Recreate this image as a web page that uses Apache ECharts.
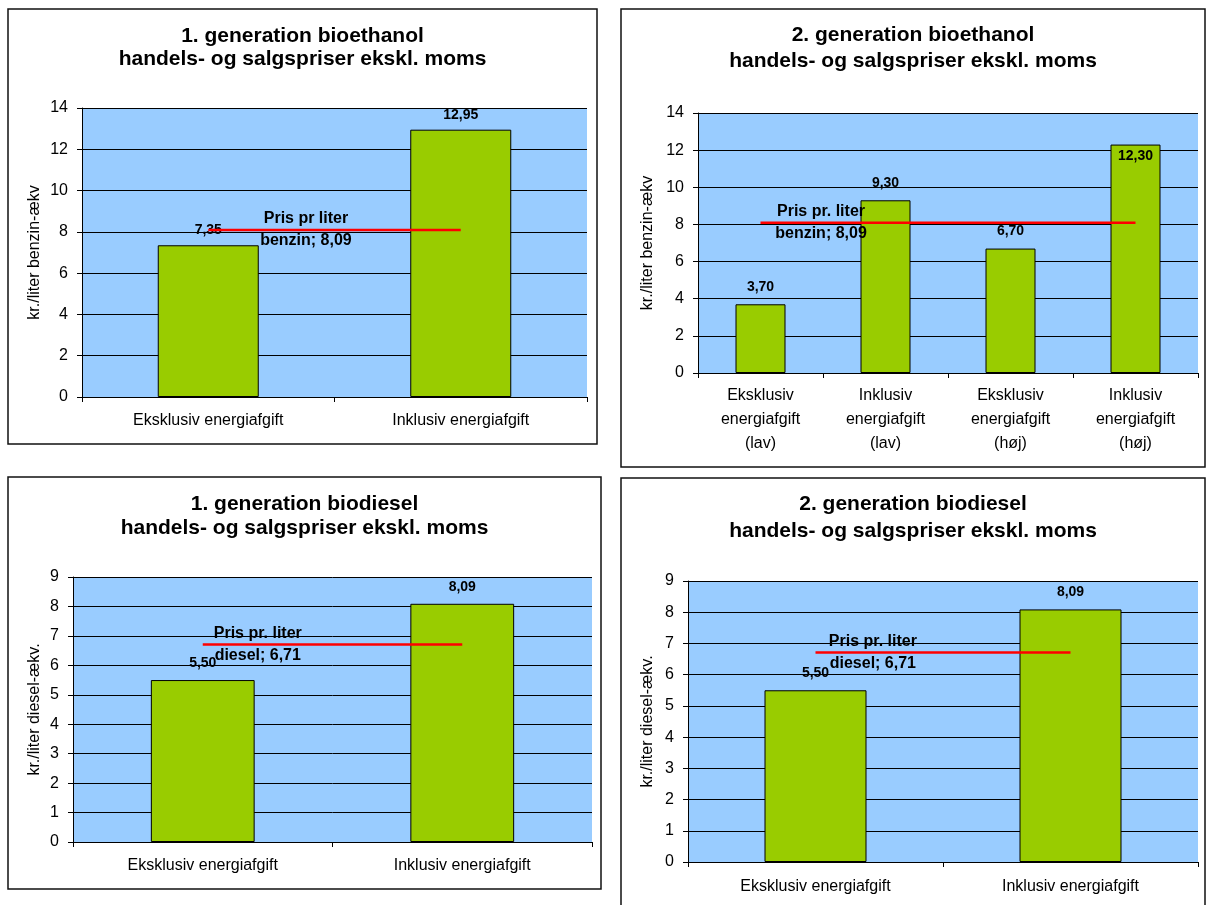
<!DOCTYPE html>
<html><head><meta charset="utf-8">
<script src="https://cdn.jsdelivr.net/npm/echarts@6/dist/echarts.min.js"></script>
<style>html,body{margin:0;padding:0;background:#fff;}#c{width:1207px;height:905px;}</style>
</head><body><div id="c"></div>
<script>
// ---------- data ----------
const titles = [
  '1. generation bioethanol\nhandels- og salgspriser ekskl. moms',
  '2. generation bioethanol\nhandels- og salgspriser ekskl. moms',
  '1. generation biodiesel\nhandels- og salgspriser ekskl. moms',
  '2. generation biodiesel\nhandels- og salgspriser ekskl. moms'
];
const yNames = ['kr./liter benzin-ækv', 'kr./liter benzin-ækv', 'kr./liter diesel-ækv.', 'kr./liter diesel-ækv.'];
const cats1 = ['Eksklusiv energiafgift', 'Inklusiv energiafgift'];
const cats2 = ['Eksklusiv\nenergiafgift\n(lav)', 'Inklusiv\nenergiafgift\n(lav)', 'Eksklusiv\nenergiafgift\n(høj)', 'Inklusiv\nenergiafgift\n(høj)'];
const cats3 = ['Eksklusiv energiafgift', 'Inklusiv energiafgift'];
const cats4 = ['Eksklusiv energiafgift', 'Inklusiv energiafgift'];
const vals1 = [7.35, 12.95];
const vals2 = [3.70, 9.30, 6.70, 12.30];
const vals3 = [5.50, 8.09];
const vals4 = [5.50, 8.09];
const prices = [8.09, 8.09, 6.71, 6.71];
const priceTexts = ['Pris pr liter\nbenzin; 8,09', 'Pris pr. liter\nbenzin; 8,09', 'Pris pr. liter\ndiesel; 6,71', 'Pris pr. liter\ndiesel; 6,71'];
const yMax = [14, 14, 9, 9];
const yInterval = [2, 2, 1, 1];

// ---------- layout / style ----------
const FONT = "'Liberation Sans', Arial, sans-serif";
const layouts = [
  {border:[8,9,589,435],   grid:{left:82,top:108,width:505,height:289}, tx:302.5, ttop:24.5, tlh:23, gap:39, lm:12, px:0.387, vd:8,  inside:[]},
  {border:[621,9,584,458], grid:{left:698,top:113,width:500,height:260}, tx:913,  ttop:22.5, tlh:26, gap:42, lm:11, px:0.484, vd:10, inside:[3]},
  {border:[8,477,593,412], grid:{left:73,top:577,width:519,height:265}, tx:304.5, ttop:492,  tlh:24, gap:30, lm:12, px:0.212, vd:10, inside:[]},
  {border:[621,478,584,440],grid:{left:688,top:581,width:510,height:281}, tx:913,  ttop:491,  tlh:27, gap:32, lm:13, px:0.225, vd:10, inside:[]}
];
const catsAll = [cats1, cats2, cats3, cats4];
const valsAll = [vals1, vals2, vals3, vals4];
const fmt = v => v.toFixed(2).replace('.', ',');

const option = {
  animation: false,
  backgroundColor: '#ffffff',
  textStyle: {fontFamily: FONT},
  title: [], grid: [], xAxis: [], yAxis: [], series: [],
  graphic: layouts.map(l => ({
    type: 'rect', silent: true,
    shape: {x: l.border[0], y: l.border[1], width: l.border[2], height: l.border[3]},
    style: {fill: 'none', stroke: '#111', lineWidth: 1.5}
  }))
};

layouts.forEach((l, i) => {
  const n = catsAll[i].length;
  option.title.push({
    text: titles[i], left: l.tx, top: l.ttop, textAlign: 'center', padding: 0,
    textStyle: {fontFamily: FONT, fontSize: 21, fontWeight: 'bold', color: '#000', lineHeight: l.tlh}
  });
  option.grid.push(Object.assign({show: true, backgroundColor: '#99CCFF', borderWidth: 0}, l.grid));
  option.xAxis.push({
    type: 'category', gridIndex: i, data: catsAll[i],
    axisLine: {show: true, onZero: false, lineStyle: {color: '#000', width: 1}},
    axisTick: {show: true, length: 5, alignWithLabel: false, lineStyle: {color: '#000'}},
    axisLabel: {interval: 0, fontFamily: FONT, fontSize: 16, color: '#000', lineHeight: 24, margin: l.lm},
    splitLine: {show: false}
  });
  option.xAxis.push({type: 'value', gridIndex: i, show: false, min: -0.5, max: n - 0.5,
    axisLine: {show: false, onZero: false}, splitLine: {show: false}});
  option.yAxis.push({
    type: 'value', gridIndex: i, min: 0, max: yMax[i], interval: yInterval[i],
    name: yNames[i], nameLocation: 'middle', nameRotate: 90, nameGap: l.gap,
    nameTextStyle: {fontFamily: FONT, fontSize: 16, color: '#000'},
    axisLine: {show: true, onZero: false, lineStyle: {color: '#000', width: 1}},
    axisTick: {show: true, length: 5, lineStyle: {color: '#000'}},
    axisLabel: {fontFamily: FONT, fontSize: 16, color: '#000', margin: 14},
    splitLine: {show: true, lineStyle: {color: '#000', width: 1}}
  });
  option.series.push({
    type: 'bar', xAxisIndex: 2 * i, yAxisIndex: i, barWidth: '40%',
    itemStyle: {color: '#99CC00', borderColor: '#000', borderWidth: 1},
    label: {show: true, position: 'top', distance: l.vd, fontFamily: FONT, fontSize: 14, fontWeight: 'bold', color: '#000',
            formatter: p => fmt(p.value)},
    data: valsAll[i].map((v, k) => l.inside.includes(k) ? {value: v, label: {position: 'insideTop', distance: 5}} : v),
    z: 2
  });
  option.series.push({
    type: 'line', xAxisIndex: 2 * i + 1, yAxisIndex: i, symbol: 'none',
    lineStyle: {color: '#FF0000', width: 2.5}, z: 4,
    data: [[0, prices[i]], [n - 1, prices[i]]]
  });
  option.series.push({
    type: 'scatter', xAxisIndex: 2 * i + 1, yAxisIndex: i, symbolSize: 1,
    itemStyle: {color: 'rgba(0,0,0,0)', opacity: 1}, z: 5, silent: true,
    label: {show: true, position: 'inside', formatter: priceTexts[i], fontFamily: FONT, fontSize: 16, fontWeight: 'bold',
            color: '#000', opacity: 1, lineHeight: 22, align: 'center', verticalAlign: 'middle'},
    data: [[l.px, prices[i]]]
  });
});

const chart = echarts.init(document.getElementById('c'), null, {renderer: 'canvas'});
chart.setOption(option);
</script></body></html>
